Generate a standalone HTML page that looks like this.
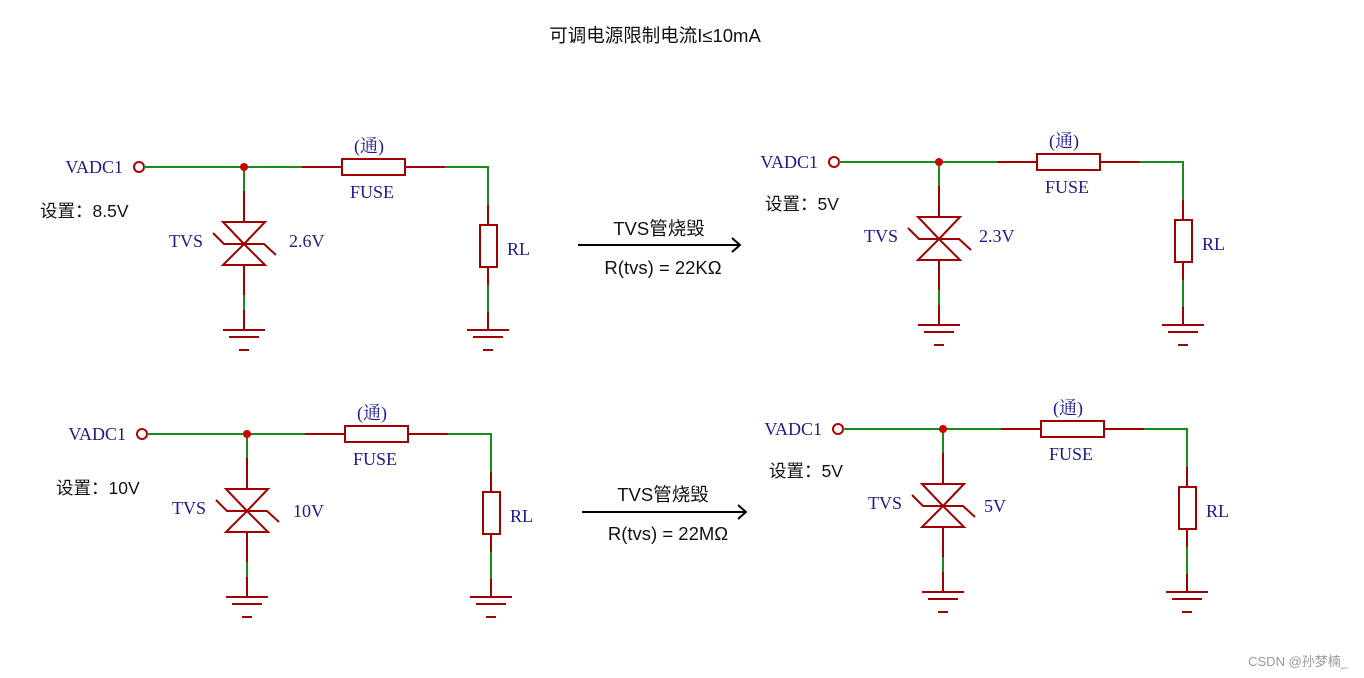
<!DOCTYPE html>
<html><head><meta charset="utf-8"><style>
html,body{margin:0;padding:0;background:#fff;}
svg{display:block;}
.s{font-family:"Liberation Serif","Noto Serif CJK SC",serif;fill:#1a1a8c;font-size:18px;}
.t{font-family:"Liberation Sans","Noto Sans CJK SC",sans-serif;fill:#111;font-size:17.5px;}
</style></head><body>
<svg width="1364" height="678" viewBox="0 0 1364 678" xmlns="http://www.w3.org/2000/svg">
<defs>
<g id="c" fill="none" stroke-width="2">
  <circle cx="0" cy="0" r="5" stroke="#b00000"/>
  <path d="M5 0H163M306 0H349V38M105 0V24M105 128V143M349 118V145" stroke="#1a8c1a"/>
  <path d="M163 0H203M266 0H306M349 38V58M349 100V118M349 145V163M105 24V55M105 98V128M105 143V163" stroke="#a00000"/>
  <rect x="203" y="-8" width="63" height="16" stroke="#a00000"/>
  <rect x="341" y="58" width="17" height="42" stroke="#a00000"/>
  <path d="M84 55H126L105 77ZM84 98H126L105 77ZM74 66L85 77H125L137 88" stroke="#a00000"/>
  <path d="M84 163H126M90 170H120M100 183H110M328 163H370M334 170H364M344 183H354" stroke="#a00000"/>
  <circle cx="105" cy="0" r="4" fill="#d00000" stroke="none"/>
  <text class="s" x="-16" y="6" text-anchor="end" stroke="none">VADC1</text>
  <text class="s" x="230" y="-15" text-anchor="middle" stroke="none">(通)</text>
  <text class="s" x="233" y="31" text-anchor="middle" stroke="none">FUSE</text>
  <text class="s" x="64" y="80" text-anchor="end" stroke="none">TVS</text>
  <text class="s" x="368" y="88" stroke="none">RL</text>
</g>
</defs>
<text class="t" x="655" y="42" text-anchor="middle" style="font-size:18.5px">可调电源限制电流I≤10mA</text>

<use href="#c" x="139" y="167"/>
<text class="s" x="289" y="247">2.6V</text>
<text class="t" x="40" y="217">设置：8.5V</text>

<use href="#c" x="834" y="162"/>
<text class="s" x="979" y="242">2.3V</text>
<text class="t" x="765" y="210">设置：5V</text>

<use href="#c" x="142" y="434"/>
<text class="s" x="293" y="517">10V</text>
<text class="t" x="56" y="494">设置：10V</text>

<use href="#c" x="838" y="429"/>
<text class="s" x="984" y="512">5V</text>
<text class="t" x="769" y="477">设置：5V</text>

<g stroke="#000" stroke-width="2" fill="none">
  <path d="M578 245H740M732 238L740 245L732 252"/>
  <path d="M582 512H746M738 505L746 512L738 519"/>
</g>
<text class="t" x="659" y="235" text-anchor="middle" style="font-size:18.5px">TVS管烧毁</text>
<text class="t" x="663" y="274" text-anchor="middle" style="font-size:18.5px">R(tvs) = 22KΩ</text>
<text class="t" x="663" y="501" text-anchor="middle" style="font-size:18.5px">TVS管烧毁</text>
<text class="t" x="668" y="540" text-anchor="middle" style="font-size:18.5px">R(tvs) = 22MΩ</text>
<text x="1348" y="666" text-anchor="end" style="font-family:'Liberation Sans','Noto Sans CJK SC',sans-serif;font-size:13px;fill:#999">CSDN @孙梦楠_</text>
</svg>
</body></html>
